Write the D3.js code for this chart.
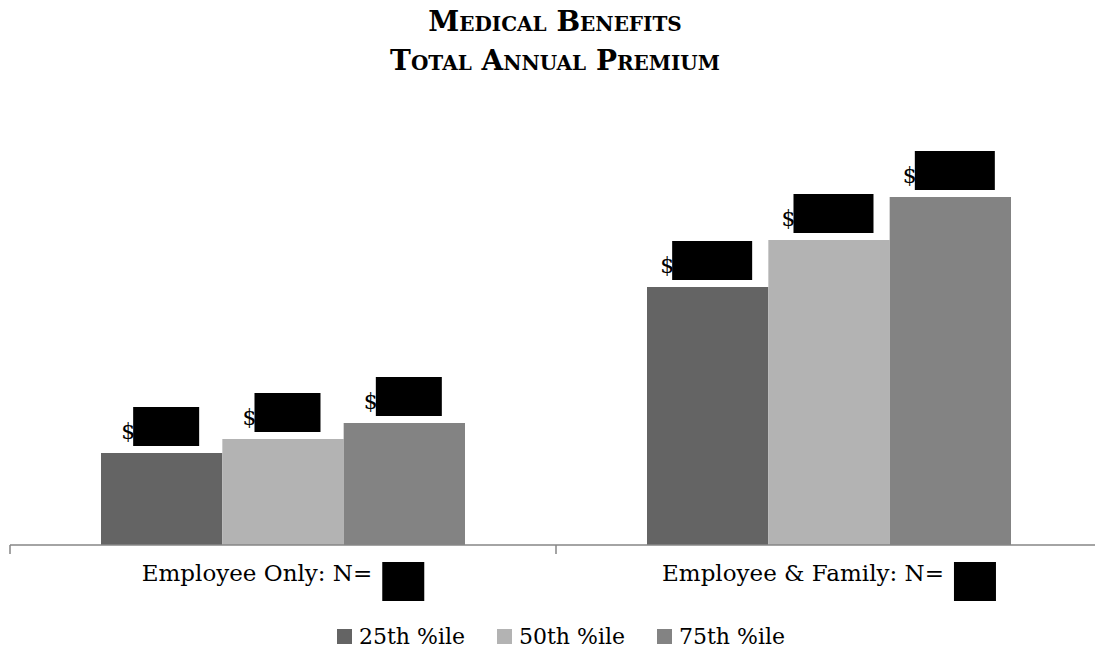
<!DOCTYPE html>
<html>
<head>
<meta charset="utf-8">
<script src="https://cdn.jsdelivr.net/npm/d3@7"></script>
<style>
  html, body { margin: 0; padding: 0; background: #fff; }
  svg { display: block; }
  text { font-family: "DejaVu Serif", "Liberation Serif", serif; }
</style>
</head>
<body>
<svg id="chart" width="1095" height="650"></svg>
<script>
// Medical benefits: total annual premium by coverage tier and percentile
const categories = ["Employee Only: N=", "Employee & Family: N="];
const seriesNames = ["25th %ile", "50th %ile", "75th %ile"];
const p25 = [4600, 12900];
const p50 = [5300, 15250];
const p75 = [6100, 17400];
const seriesColors = ["#646464", "#b3b3b3", "#838383"];
const titleLines = ["Medical Benefits", "Total Annual Premium"];

const seriesValues = [p25, p50, p75];
const rows = categories.map((c, i) => ({
  category: c,
  values: seriesNames.map((s, j) => ({ series: s, value: seriesValues[j][i], color: seriesColors[j] }))
}));

const svg = d3.select("#chart");
const plotLeft = 10, plotRight = 1102, baseY = 545;

const x0 = d3.scaleBand().domain(categories).range([plotLeft, plotRight]).padding(0);
const x1 = d3.scaleBand().domain(seriesNames).range([0, x0.bandwidth()])
  .paddingInner(0).paddingOuter(0.75);
const y = d3.scaleLinear().domain([0, 20000]).range([baseY, baseY - 400]);

// Title
const title = svg.append("g")
  .attr("font-weight", "bold").attr("font-variant", "small-caps")
  .attr("text-anchor", "middle").attr("fill", "#000");
title.selectAll("text").data(titleLines).join("text")
  .attr("x", 555).attr("y", (d, i) => 31 + i * 39)
  .attr("font-family", "'Liberation Serif', serif")
  .attr("font-size", 28)
  .text(d => d);

// Bars
const groups = svg.append("g").selectAll("g").data(rows).join("g")
  .attr("transform", d => `translate(${x0(d.category)},0)`);

groups.selectAll("rect.bar").data(d => d.values).join("rect")
  .attr("class", "bar")
  .attr("x", d => x1(d.series))
  .attr("width", x1.bandwidth())
  .attr("y", d => y(d.value))
  .attr("height", d => baseY - y(d.value))
  .attr("fill", d => d.color);

// Value labels, with the amounts blacked out
const fmt = d3.format("$,");
groups.each(function(row) {
  const g = d3.select(this);
  row.values.forEach(v => {
    const cx = x1(v.series) + x1.bandwidth() / 2 - 2;
    const t = g.append("text")
      .attr("x", cx).attr("y", y(v.value) - 14)
      .attr("text-anchor", "middle")
      .attr("font-size", 22).attr("fill", "#000")
      .text(fmt(v.value));
    const node = t.node();
    const n = node.getNumberOfChars();
    const sx = node.getStartPositionOfChar(1).x;
    const ex = node.getEndPositionOfChar(n - 1).x;
    g.append("rect")
      .attr("x", sx - 2).attr("width", ex - sx + 3)
      .attr("y", y(v.value) - 46).attr("height", 39)
      .attr("fill", "#000");
  });
});

// Category axis
const axis = svg.append("g").attr("stroke", "#868686").attr("stroke-width", 1.5).attr("fill", "none");
axis.append("line").attr("x1", plotLeft).attr("x2", plotRight).attr("y1", baseY).attr("y2", baseY);
const tickXs = categories.map(c => x0(c)).concat([x0(categories[categories.length - 1]) + x0.bandwidth()]);
axis.selectAll("line.tick").data(tickXs).join("line").attr("class", "tick")
  .attr("x1", d => d).attr("x2", d => d).attr("y1", baseY).attr("y2", baseY + 9);

// Category labels with redacted counts
const boxW = 42;
categories.forEach(c => {
  const cx = x0(c) + x0.bandwidth() / 2;
  const t = svg.append("text").attr("y", 581).attr("font-size", 23).attr("fill", "#000").text(c);
  const w = t.node().getComputedTextLength();
  const start = cx - (w + 10 + boxW) / 2;
  t.attr("x", start);
  svg.append("rect").attr("x", start + w + 10).attr("y", 562).attr("width", boxW).attr("height", 39).attr("fill", "#000");
});

// Legend
const legend = svg.append("g");
const swatch = 15, swatchGap = 7, itemGap = 32;
let lx = 0;
seriesNames.forEach((s, i) => {
  const g = legend.append("g").attr("transform", `translate(${lx},0)`);
  g.append("rect").attr("x", 0).attr("y", -15).attr("width", swatch).attr("height", swatch).attr("fill", seriesColors[i]);
  const t = g.append("text").attr("x", swatch + swatchGap).attr("y", 0).attr("font-size", 22).attr("fill", "#000").text(s);
  lx += swatch + swatchGap + t.node().getComputedTextLength() + itemGap;
});
const legendW = lx - itemGap;
legend.attr("transform", `translate(${561 - legendW / 2},644)`);
</script>
</body>
</html>
